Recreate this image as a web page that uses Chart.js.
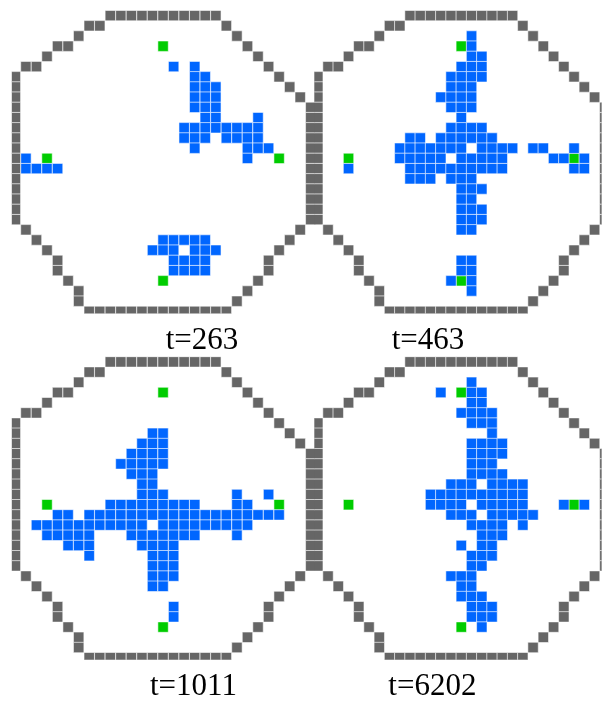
<!DOCTYPE html>
<html>
<head>
<meta charset="utf-8">
<script src="https://cdn.jsdelivr.net/npm/chart.js@4.4.0/dist/chart.umd.min.js"></script>
<style>
  html, body { margin: 0; padding: 0; background: #ffffff; }
  #board { position: relative; width: 610px; height: 702px; overflow: hidden; }
  #board canvas { position: absolute; left: 0; top: 0; }
</style>
</head>
<body>
<div id="board">
  <canvas id="panel0" width="610" height="702"></canvas>
  <canvas id="panel1" width="610" height="702"></canvas>
  <canvas id="panel2" width="610" height="702"></canvas>
  <canvas id="panel3" width="610" height="702"></canvas>
</div>
<script>
// Arena boundary: [row, [columns]] of wall cells
const WALL = [
  [0, [9, 10, 11, 12, 13, 14, 15, 16, 17, 18, 19]],
  [1, [7, 8, 20]],
  [2, [6, 21]],
  [3, [4, 5, 22]],
  [4, [3, 23]],
  [5, [1, 2, 24]],
  [6, [0, 25]],
  [7, [0, 26]],
  [8, [0, 27]],
  [9, [0, 28]],
  [10, [0, 28]],
  [11, [0, 28]],
  [12, [0, 28]],
  [13, [0, 28]],
  [14, [0, 28]],
  [15, [0, 28]],
  [16, [0, 28]],
  [17, [0, 28]],
  [18, [0, 28]],
  [19, [0, 28]],
  [20, [0, 28]],
  [21, [1, 27]],
  [22, [2, 26]],
  [23, [3, 25]],
  [24, [4, 24]],
  [25, [4, 24]],
  [26, [5, 23]],
  [27, [6, 22]],
  [28, [6, 21]],
  [29, [7, 8, 9, 10, 11, 12, 13, 14, 15, 16, 17, 18, 19, 20]]
];

// Food sources: [column, row]
const FOOD = [[14, 3], [3, 14], [25, 14], [14, 26]];

// Occupied cells at each time step: [row, [columns]]
const CELLS_T263 = [
  [5, [15, 17]],
  [6, [17, 18]],
  [7, [17, 18, 19]],
  [8, [17, 18, 19]],
  [9, [17, 18, 19]],
  [10, [18, 19, 23]],
  [11, [16, 17, 18, 19, 20, 21, 22, 23]],
  [12, [16, 17, 18, 20, 21, 22, 23]],
  [13, [17, 22, 23, 24]],
  [14, [1, 22]],
  [15, [1, 2, 3, 4]],
  [22, [14, 15, 16, 17, 18]],
  [23, [13, 14, 15, 17, 18, 19]],
  [24, [15, 16, 17, 18]],
  [25, [15, 16, 17, 18]]
];

const CELLS_T463 = [
  [2, [15]],
  [3, [15]],
  [4, [15, 16]],
  [5, [14, 15, 16]],
  [6, [13, 14, 15, 16]],
  [7, [13, 14, 15]],
  [8, [12, 13, 14, 15]],
  [9, [13, 14, 15]],
  [10, [14]],
  [11, [13, 14, 15, 16]],
  [12, [9, 10, 12, 13, 14, 15, 16, 17]],
  [13, [8, 9, 10, 11, 12, 13, 14, 16, 17, 18, 19, 21, 22, 25]],
  [14, [8, 9, 10, 11, 12, 14, 15, 16, 17, 18, 23, 24, 26]],
  [15, [3, 9, 10, 11, 12, 13, 14, 15, 16, 17, 18, 25, 26]],
  [16, [9, 10, 11, 13, 14, 15]],
  [17, [14, 15, 16]],
  [18, [14, 15]],
  [19, [14, 15, 16]],
  [20, [14, 15, 16]],
  [21, [14, 15]],
  [24, [14, 15]],
  [25, [14, 15]],
  [26, [13, 15]],
  [27, [15]]
];

const CELLS_T1011 = [
  [7, [13, 14]],
  [8, [12, 13, 14]],
  [9, [11, 12, 13, 14]],
  [10, [10, 11, 12, 13, 14]],
  [11, [11, 12, 13]],
  [12, [12, 13]],
  [13, [12, 13, 14, 21, 24]],
  [14, [9, 10, 11, 12, 13, 14, 15, 16, 17, 21, 22]],
  [15, [4, 5, 7, 8, 9, 10, 11, 12, 13, 14, 15, 16, 17, 18, 19, 20, 21, 22, 23, 24, 25]],
  [16, [2, 3, 4, 5, 6, 7, 8, 9, 10, 11, 12, 14, 15, 16, 17, 18, 19, 20, 21, 22]],
  [17, [3, 4, 5, 6, 7, 11, 12, 13, 14, 15, 16, 17, 21]],
  [18, [5, 6, 7, 12, 13, 14, 15]],
  [19, [7, 13, 14, 15]],
  [20, [13, 14, 15]],
  [21, [13, 14, 15]],
  [22, [13, 14]],
  [24, [15]],
  [25, [15]]
];

const CELLS_T6202 = [
  [2, [15]],
  [3, [12, 15, 16]],
  [4, [15, 16]],
  [5, [14, 15, 16, 17]],
  [6, [15, 16, 17]],
  [7, [17]],
  [8, [15, 16, 17, 18]],
  [9, [15, 16, 17, 18]],
  [10, [15, 16, 17]],
  [11, [15, 16, 17, 18]],
  [12, [13, 14, 15, 17, 18, 19, 20]],
  [13, [11, 12, 13, 14, 15, 16, 17, 18, 19, 20]],
  [14, [11, 12, 13, 14, 16, 17, 18, 19, 20, 24, 26]],
  [15, [13, 14, 15, 17, 18, 19, 20, 21]],
  [16, [15, 16, 17, 18, 20]],
  [17, [16, 17, 18]],
  [18, [14, 16, 17]],
  [19, [15, 16, 17]],
  [20, [15, 16]],
  [21, [13, 14, 15]],
  [22, [14, 15]],
  [23, [14, 15, 16]],
  [24, [15, 16, 17]],
  [25, [15, 16, 17]],
  [26, [16]]
];

const STEP_LABELS = ['t=263', 't=463', 't=1011', 't=6202'];

// ---- layout of the 2x2 board (pixels) ----
const PAGE_W = 610, PAGE_H = 702;
const PITCH_X = 10.55, PITCH_Y = 10.2;      // cell spacing
const CELL_SIDE = 10.4;                      // drawn square size
const COL0_CX = 15.375, ROW0_CY = 15.6;      // centre of cell (0,0) inside a panel
const VIEW = { left: 11.8, top: 10.3, right: 316.05, bottom: 313.5 }; // visible part of a panel
const CAPTION_BASELINE = 349;

const COLORS = {
  wall: '#666666',
  agent: '#0066ff',
  food: '#00cc00',
  edge: 'rgba(255,255,255,0.55)'
};

const PANELS = [
  { canvas: 'panel0', ox: 0,     oy: 0,     cells: CELLS_T263,  label: STEP_LABELS[0], labelX: 165.7 },
  { canvas: 'panel1', ox: 302.5, oy: 0,     cells: CELLS_T463,  label: STEP_LABELS[1], labelX: 89.2 },
  { canvas: 'panel2', ox: 0,     oy: 346.3, cells: CELLS_T1011, label: STEP_LABELS[2], labelX: 150 },
  { canvas: 'panel3', ox: 302.5, oy: 346.3, cells: CELLS_T6202, label: STEP_LABELS[3], labelX: 85.8 }
];

function rowsToPoints(rows) {
  const pts = [];
  rows.forEach(([r, cols]) => cols.forEach(c => pts.push({ x: c, y: r })));
  return pts;
}

const captionPlugin = {
  id: 'stepCaption',
  afterDraw(chart, args, opts) {
    const ctx = chart.ctx;
    ctx.save();
    ctx.font = '31px "Liberation Serif", "Times New Roman", serif';
    ctx.fillStyle = '#000000';
    ctx.textAlign = 'left';
    ctx.textBaseline = 'alphabetic';
    ctx.fillText(opts.text, opts.x, opts.y);
    ctx.restore();
  }
};

function cellDataset(points, color) {
  return {
    data: points,
    pointStyle: 'rect',
    pointRadius: CELL_SIDE / Math.SQRT2,
    pointHoverRadius: CELL_SIDE / Math.SQRT2,
    pointBackgroundColor: color,
    pointBorderColor: COLORS.edge,
    pointBorderWidth: 1,
    clip: 0
  };
}

PANELS.forEach(p => {
  const areaLeft = p.ox + VIEW.left;
  const areaRight = Math.min(p.ox + VIEW.right, PAGE_W);
  const areaTop = p.oy + VIEW.top;
  const areaBottom = p.oy + VIEW.bottom;

  new Chart(document.getElementById(p.canvas), {
    type: 'scatter',
    data: {
      datasets: [
        cellDataset(rowsToPoints(WALL), COLORS.wall),
        cellDataset(rowsToPoints(p.cells), COLORS.agent),
        cellDataset(FOOD.map(([c, r]) => ({ x: c, y: r })), COLORS.food)
      ]
    },
    options: {
      responsive: false,
      devicePixelRatio: 1,
      animation: false,
      events: [],
      layout: {
        padding: {
          left: areaLeft,
          right: PAGE_W - areaRight,
          top: areaTop,
          bottom: PAGE_H - areaBottom
        }
      },
      scales: {
        x: {
          type: 'linear',
          display: false,
          min: (areaLeft - p.ox - COL0_CX) / PITCH_X,
          max: (areaRight - p.ox - COL0_CX) / PITCH_X
        },
        y: {
          type: 'linear',
          display: false,
          reverse: true,
          min: (VIEW.top - ROW0_CY) / PITCH_Y,
          max: (VIEW.bottom - ROW0_CY) / PITCH_Y
        }
      },
      plugins: {
        legend: { display: false },
        tooltip: { enabled: false },
        stepCaption: { text: p.label, x: p.ox + p.labelX, y: p.oy + CAPTION_BASELINE }
      }
    },
    plugins: [captionPlugin]
  });
});
</script>
</body>
</html>
